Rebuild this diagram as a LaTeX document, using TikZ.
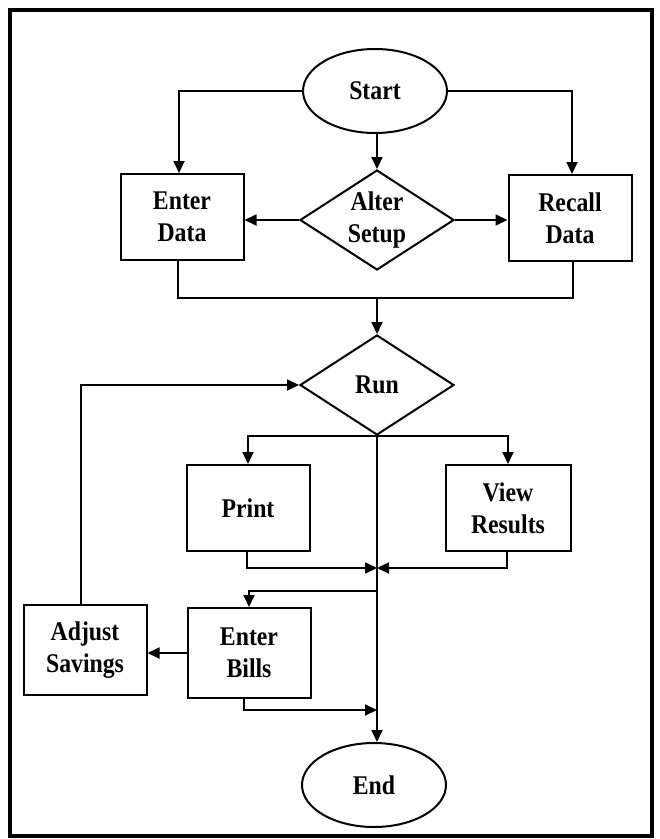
\documentclass[tikz,border=0pt]{standalone}
\usepackage{fontspec}
\setmainfont{Liberation Serif}
\newfontfamily\lblfont{Liberation Serif}[FakeStretch=0.88]
\usetikzlibrary{shapes.geometric,arrows.meta}
\begin{document}
\begin{tikzpicture}[x=1pt,y=-1pt,
  every node/.style={font=\lblfont\fontsize{27}{32}\selectfont\bfseries, align=center, inner sep=0pt, line width=2pt},
  boxnode/.style={draw, rectangle, minimum width=123pt, minimum height=86pt},
  term/.style={draw, ellipse, minimum width=144pt, minimum height=84pt},
  decide/.style={draw, diamond, aspect=1.54, minimum width=154pt, minimum height=100pt},
  conn/.style={line width=1.8pt},
  arr/.style={conn, -{Triangle[length=12pt,width=11pt]}}]
\useasboundingbox (0,0) rectangle (660,839);
\draw[line width=4pt] (10,10) rectangle (652,836);

\node[term] (start) at (375,91) {Start};
\node[boxnode] (enter) at (182,217) {Enter\\Data};
\node[decide] (alter) at (377,220) {Alter\\Setup};
\node[boxnode] (recall) at (570,218) {Recall\\Data};
\node[decide] (run) at (377,385) {Run};
\node[boxnode] (print) at (248,508) {Print};
\node[boxnode, minimum width=125pt] (view) at (508,508) {View\\Results};
\node[boxnode, minimum height=90pt] (bills) at (249,653) {Enter\\Bills};
\node[boxnode, minimum height=90pt] (adjust) at (85,650) {Adjust\\Savings};
\node[term] (end) at (374,785) {End};

\coordinate (m1) at (377,298);
\coordinate (b1) at (377,436);
\coordinate (j1) at (377,568);
\coordinate (j2) at (377,591);
\coordinate (j3) at (377,710);

\draw[arr] (start.west) -| ([xshift=-3pt]enter.north);
\draw[arr] (start.east) -| ([xshift=2pt]recall.north);
\draw[arr] (alter.north |- start.south) -- (alter.north);
\draw[arr] (alter.west) -- (alter.west -| enter.east);
\draw[arr] (alter.east) -- (alter.east -| recall.west);
\draw[conn] ([xshift=-4pt]enter.south) |- (m1) -| ([xshift=3pt]recall.south);
\draw[arr] (m1) -- (run.north);
\draw[arr] ([xshift=-4pt]adjust.north) |- (run.west);
\draw[arr] (b1) -| (print.north);
\draw[arr] (b1) -| (view.north);
\draw[arr] (run.south) -- (run.south |- end.north);
\draw[arr] ([xshift=-1pt]print.south) |- (j1);
\draw[arr] ([xshift=-1pt]view.south) |- (j1);
\draw[arr] (j2) -| (bills.north);
\draw[arr] (bills.west) -- (bills.west -| adjust.east);
\draw[arr] ([xshift=-5pt]bills.south) |- (j3);
\end{tikzpicture}
\end{document}
